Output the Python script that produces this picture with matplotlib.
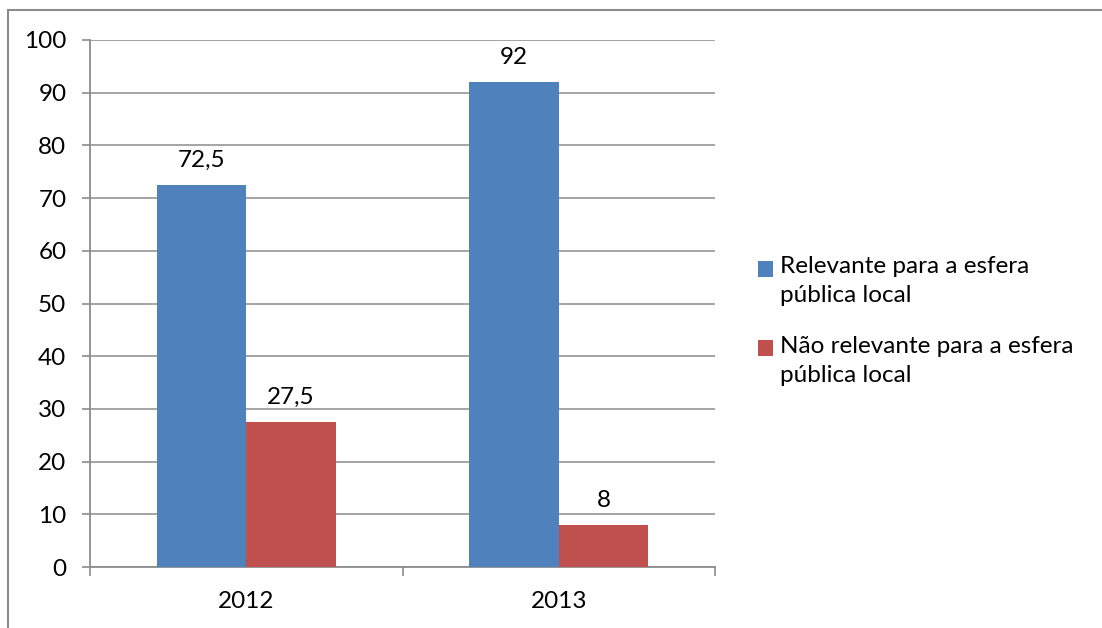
import matplotlib
matplotlib.use("Agg")
import matplotlib.pyplot as plt
from matplotlib.lines import Line2D
from matplotlib.patches import Rectangle
from matplotlib.container import BarContainer
from matplotlib.legend_handler import HandlerPatch
import numpy as np

anos = ["2012", "2013"]
relevante = [72.5, 92]
nao_relevante = [27.5, 8]
rotulos_rel = ["72,5", "92"]
rotulos_nao = ["27,5", "8"]
series = ["Relevante para a esfera\npública local",
          "Não relevante para a esfera\npública local"]

plt.rcParams['font.family'] = ['Lato', 'DejaVu Sans']
fs = 17.5
cinza = "#8c8c8c"
passo_linha = 1.5


class QuadradoTopo(HandlerPatch):
    # quadrado alinhado com a primeira linha do rótulo (como no Excel)
    def create_artists(self, legend, orig_handle, xdescent, ydescent,
                       width, height, fontsize, trans):
        r = Rectangle((-xdescent, -ydescent + 9), width, height,
                      facecolor=orig_handle[0].get_facecolor(), edgecolor="none",
                      transform=trans)
        return [r]


fig = plt.figure(figsize=(11.02, 6.28), dpi=100)
ax = fig.add_axes([90/1102, 61/628, 625/1102, 527/628])

x = np.arange(len(anos))
w = 0.2864
b1 = ax.bar(x - w/2, relevante, w, color="#4F81BD", label=series[0], zorder=3)
b2 = ax.bar(x + w/2, nao_relevante, w, color="#C0504D", label=series[1], zorder=3)

for bars, txts in [(b1, rotulos_rel), (b2, rotulos_nao)]:
    for r, t in zip(bars, txts):
        ax.annotate(t, (r.get_x() + r.get_width()/2, r.get_height()),
                    xytext=(0, 10), textcoords="offset points",
                    ha="center", va="bottom", fontsize=fs, color="black")

ax.set_xlim(-0.5, 1.5)
ax.set_ylim(0, 100)
ax.set_yticks(range(0, 101, 10))
ax.set_xticks(x)
ax.set_xticklabels(anos)
ax.set_xticks([-0.5, 0.5, 1.5], minor=True)
ax.tick_params(axis="x", which="major", length=0, pad=17, labelsize=fs)
ax.tick_params(axis="x", which="minor", length=6.5, width=1.2, color=cinza)
ax.tick_params(axis="y", length=6, width=1.2, color=cinza, pad=11, labelsize=fs)
ax.yaxis.grid(True, color=cinza, linewidth=1.1, zorder=0)
ax.set_axisbelow(True)
for s in ["top", "right"]:
    ax.spines[s].set_visible(False)
for s in ["left", "bottom"]:
    ax.spines[s].set_color(cinza)
    ax.spines[s].set_linewidth(1.3)

leg = ax.legend(loc="upper left", bbox_to_anchor=(758/1102, 1 - 256/628),
                bbox_transform=fig.transFigure,
                frameon=False, fontsize=fs, handlelength=0.62, handleheight=0.62,
                handletextpad=0.29, labelspacing=1.2, borderaxespad=0, borderpad=0,
                handler_map={BarContainer: QuadradoTopo()})
for t in leg.get_texts():
    t.set_linespacing(passo_linha)

# moldura do gráfico
fig.add_artist(Line2D([8/1102, 8/1102], [0, 1 - 10/628], color=cinza, lw=1.5,
                      transform=fig.transFigure))
fig.add_artist(Line2D([8/1102, 1], [1 - 10/628, 1 - 10/628], color=cinza, lw=1.5,
                      transform=fig.transFigure))

fig.savefig("out.png", dpi=100)
